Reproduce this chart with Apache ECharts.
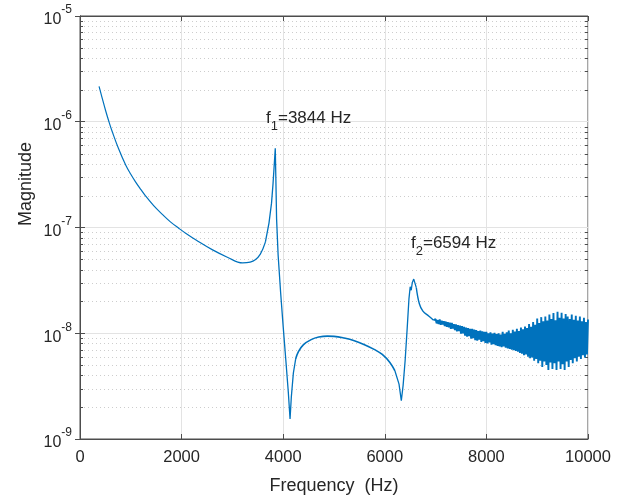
<!DOCTYPE html>
<html>
<head>
<meta charset="utf-8">
<script src="https://cdn.jsdelivr.net/npm/echarts@6/dist/echarts.min.js"></script>
<style>
html,body{margin:0;padding:0;background:#fff;}
#c{width:629px;height:500px;}
</style>
</head>
<body>
<div id="c"></div>
<script>
// ---- Data ----
var xTicks = [0, 2000, 4000, 6000, 8000, 10000];
var yDecades = [1e-9, 1e-8, 1e-7, 1e-6, 1e-5];

// smooth part of the response (Hz, magnitude)
var freqHz = [375, 430, 505, 570, 637, 760, 899, 1000, 1096, 1200, 1293, 1450, 1621, 1780, 1949, 2080, 2300, 2610, 2900, 3200, 3350, 3450, 3550, 3650, 3720, 3770, 3800, 3825, 3844, 3855, 3870, 3900, 3950, 4000, 4050, 4100, 4135, 4160, 4200, 4245, 4300, 4400, 4550, 4700, 4870, 5000, 5200, 5400, 5600, 5800, 5950, 6100, 6200, 6280, 6325, 6360, 6400, 6440, 6475, 6500, 6520, 6540, 6570, 6590, 6620, 6680, 6750, 6870, 6960];
var magnitude = [2.16e-6, 1.72e-6, 1.27e-6, 1.0e-6, 8.0e-7, 5.55e-7, 3.9e-7, 3.19e-7, 2.69e-7, 2.28e-7, 1.98e-7, 1.61e-7, 1.33e-7, 1.13e-7, 9.8e-8, 8.83e-8, 7.53e-8, 6.14e-8, 5.24e-8, 4.62e-8, 4.7e-8, 4.95e-8, 5.6e-8, 7.3e-8, 1.1e-7, 1.7e-7, 2.6e-7, 4.0e-7, 5.6e-7, 3.0e-7, 1.2e-7, 5.5e-8, 2.4e-8, 1.15e-8, 5.7e-9, 2.8e-9, 1.55e-9, 2.5e-9, 4.2e-9, 5.7e-9, 6.7e-9, 7.8e-9, 8.7e-9, 9.2e-9, 9.4e-9, 9.35e-9, 9.0e-9, 8.5e-9, 7.8e-9, 7.0e-9, 6.3e-9, 5.3e-9, 4.4e-9, 3.3e-9, 2.3e-9, 3.2e-9, 5.5e-9, 1.1e-8, 2.1e-8, 2.75e-8, 2.55e-8, 3.0e-8, 3.25e-8, 3.15e-8, 2.7e-8, 1.9e-8, 1.62e-8, 1.45e-8, 1.33e-8];

// noisy tail, sampled every 20 Hz from 7000 Hz to 10000 Hz
var noiseStartHz = 7000;
var noiseStepHz = 20;
var noiseMag = [
1.36e-8, 1.24e-8, 1.33e-8, 1.22e-8, 1.35e-8,
1.20e-8, 1.31e-8, 1.21e-8, 1.30e-8, 1.17e-8,
1.29e-8, 1.15e-8, 1.27e-8, 1.14e-8, 1.26e-8,
1.10e-8, 1.25e-8, 1.11e-8, 1.22e-8, 1.07e-8,
1.21e-8, 1.04e-8, 1.19e-8, 1.05e-8, 1.18e-8,
9.9e-9, 1.17e-8, 1.00e-8, 1.15e-8, 9.5e-9,
1.13e-8, 9.3e-9, 1.12e-8, 9.4e-9, 1.10e-8,
8.9e-9, 1.10e-8, 9.0e-9, 1.08e-8, 8.6e-9,
1.07e-8, 8.5e-9, 1.05e-8, 8.7e-9, 1.06e-8,
8.3e-9, 1.04e-8, 8.4e-9, 1.03e-8, 8.1e-9,
1.03e-8, 8.0e-9, 1.00e-8, 8.2e-9, 1.02e-8,
7.8e-9, 9.9e-9, 7.9e-9, 1.01e-8, 7.7e-9,
9.8e-9, 7.6e-9, 1.00e-8, 7.5e-9, 9.7e-9,
7.4e-9, 1.03e-8, 7.5e-9, 9.9e-9, 7.3e-9,
1.02e-8, 7.2e-9, 1.06e-8, 7.1e-9, 1.00e-8,
7.0e-9, 1.08e-8, 6.9e-9, 1.04e-8, 6.8e-9,
1.10e-8, 6.7e-9, 1.05e-8, 6.5e-9, 1.13e-8,
6.4e-9, 1.09e-8, 6.2e-9, 1.16e-8, 6.3e-9,
1.12e-8, 6.0e-9, 1.22e-8, 5.8e-9, 1.15e-8,
5.9e-9, 1.28e-8, 5.5e-9, 1.20e-8, 5.7e-9,
1.38e-8, 5.2e-9, 1.25e-8, 5.5e-9, 1.42e-8,
4.8e-9, 1.30e-8, 5.4e-9, 1.44e-8, 5.0e-9,
1.32e-8, 4.5e-9, 1.50e-8, 5.3e-9, 1.36e-8,
4.6e-9, 1.55e-8, 5.2e-9, 1.33e-8, 4.5e-9,
1.60e-8, 5.4e-9, 1.40e-8, 4.6e-9, 1.56e-8,
5.1e-9, 1.38e-8, 4.5e-9, 1.52e-8, 5.4e-9,
1.44e-8, 4.8e-9, 1.36e-8, 5.6e-9, 1.50e-8,
5.2e-9, 1.34e-8, 5.8e-9, 1.46e-8, 5.4e-9,
1.32e-8, 6.0e-9, 1.44e-8, 5.7e-9, 1.30e-8,
6.2e-9, 1.40e-8, 5.9e-9, 1.28e-8, 6.3e-9,
1.35e-8
];

var annotations = [
  {sub: '1', text: '=3844 Hz'},
  {sub: '2', text: '=6594 Hz'}
];

// index ranges of the smooth part that are drawn as gently curving segments
var gentleRanges = [[0, 23], [39, 52], [64, 68]];

// ---- Build series data ----
var pts = [];
for (var i = 0; i < freqHz.length; i++) pts.push([freqHz[i], magnitude[i]]);
var noisePart = [pts[pts.length - 1]];
for (var j = 0; j < noiseMag.length; j++) noisePart.push([noiseStartHz + j * noiseStepHz, noiseMag[j]]);

var axisCol = '#4d4d4d';
var txtCol = '#262626';
var lineCol = '#0072BD';
var font = 'Liberation Sans, Arial, sans-serif';
var widths = [1.2, 1.6, 1.4];

var series = [];
var prev = 0;
var sharpSegs = [];
for (var r = 0; r < gentleRanges.length; r++) {
  if (gentleRanges[r][0] > prev) sharpSegs.push([prev, gentleRanges[r][0]]);
  prev = gentleRanges[r][1];
}
if (prev < pts.length - 1) sharpSegs.push([prev, pts.length - 1]);
sharpSegs.forEach(function (s) {
  series.push({type: 'line', data: pts.slice(s[0], s[1] + 1), showSymbol: false, z: 5,
    lineStyle: {color: lineCol, width: 1.3}, itemStyle: {color: lineCol}});
});
gentleRanges.forEach(function (s, n) {
  series.push({type: 'line', data: pts.slice(s[0], s[1] + 1), showSymbol: false, z: 5, smooth: 0.4,
    lineStyle: {color: lineCol, width: widths[n]}, itemStyle: {color: lineCol}});
});
series.push({type: 'line', data: noisePart, showSymbol: false, z: 5,
  lineStyle: {color: lineCol, width: 1.9, join: 'bevel'}, itemStyle: {color: lineCol}});

function annText(a) {
  return {
    text: '{m|f}{u|' + a.sub + '}{m|' + a.text + '}',
    rich: {
      m: {fontSize: 17, lineHeight: 20, verticalAlign: 'top', fill: txtCol, fontFamily: font},
      u: {fontSize: 13, lineHeight: 33, fill: txtCol, fontFamily: font}
    }
  };
}

var chart = echarts.init(document.getElementById('c'));
chart.setOption({
  animation: false,
  backgroundColor: '#fff',
  grid: {left: 80, right: 41, top: 16, bottom: 56, show: true, borderColor: axisCol, borderWidth: 1, backgroundColor: 'transparent'},
  xAxis: [{
    type: 'value', min: xTicks[0], max: xTicks[xTicks.length - 1], interval: 2000,
    name: 'Frequency  (Hz)', nameLocation: 'middle', nameGap: 38,
    nameTextStyle: {fontSize: 18, color: txtCol, fontFamily: font},
    axisLine: {lineStyle: {color: axisCol}},
    axisTick: {inside: true, length: 5, lineStyle: {color: axisCol}},
    axisLabel: {fontSize: 16.5, color: txtCol, margin: 10, fontFamily: font,
      formatter: function (v) { return String(v); }},
    splitLine: {show: true, lineStyle: {color: '#e3e3e3', width: 1}}
  }, {
    type: 'value', min: xTicks[0], max: xTicks[xTicks.length - 1], interval: 2000, position: 'top',
    axisLine: {lineStyle: {color: axisCol}},
    axisTick: {inside: true, length: 5, lineStyle: {color: axisCol}},
    axisLabel: {show: false}, splitLine: {show: false}
  }],
  yAxis: [{
    type: 'log', logBase: 10, min: yDecades[0], max: yDecades[yDecades.length - 1],
    axisLine: {show: true, lineStyle: {color: axisCol}},
    axisTick: {show: true, inside: true, length: 5, lineStyle: {color: axisCol}},
    splitLine: {show: true, lineStyle: {color: '#e3e3e3', width: 1}},
    axisLabel: {
      margin: 8, color: txtCol, fontFamily: font,
      formatter: function (v) {
        var e = Math.round(Math.log10(v));
        return '{b|10}{s|' + e + '}';
      },
      rich: {
        b: {fontSize: 16, lineHeight: 24, verticalAlign: 'bottom', color: txtCol, fontFamily: font},
        s: {fontSize: 12, lineHeight: 12, verticalAlign: 'top', color: txtCol, fontFamily: font}
      }
    }
  }, {
    type: 'log', logBase: 10, min: yDecades[0], max: yDecades[yDecades.length - 1], position: 'right',
    axisLine: {show: true, lineStyle: {color: axisCol}},
    axisTick: {show: true, inside: true, length: 5, lineStyle: {color: axisCol}},
    axisLabel: {show: false}, splitLine: {show: false}
  }],
  series: series
});

// minor log grid lines (2..9 x each decade) and minor ticks, placed through the axis scale
var gfx = [];
var px0 = chart.convertToPixel({xAxisIndex: 0}, xTicks[0]);
var px1 = chart.convertToPixel({xAxisIndex: 0}, xTicks[xTicks.length - 1]);
for (var d = 0; d < yDecades.length - 1; d++) {
  for (var k = 2; k <= 9; k++) {
    var py = Math.round(chart.convertToPixel({yAxisIndex: 0}, yDecades[d] * k)) + 0.5;
    gfx.push({type: 'line', z: 1, silent: true,
      shape: {x1: px0, y1: py, x2: px1, y2: py},
      style: {stroke: '#cdcdcd', lineWidth: 1, lineDash: [1, 3]}});
    gfx.push({type: 'line', z: 3, silent: true,
      shape: {x1: px0, y1: py, x2: px0 + 3, y2: py},
      style: {stroke: axisCol, lineWidth: 1}});
    gfx.push({type: 'line', z: 3, silent: true,
      shape: {x1: px1 - 3, y1: py, x2: px1, y2: py},
      style: {stroke: axisCol, lineWidth: 1}});
  }
}
gfx.push({type: 'text', left: 17, top: 142, rotation: Math.PI / 2, z: 10,
  style: {text: 'Magnitude', fontSize: 18, fill: txtCol, fontFamily: font}});
gfx.push({type: 'text', left: 266, top: 110, z: 10, style: annText(annotations[0])});
gfx.push({type: 'text', left: 411, top: 235, z: 10, style: annText(annotations[1])});
chart.setOption({graphic: gfx});
</script>
</body>
</html>
